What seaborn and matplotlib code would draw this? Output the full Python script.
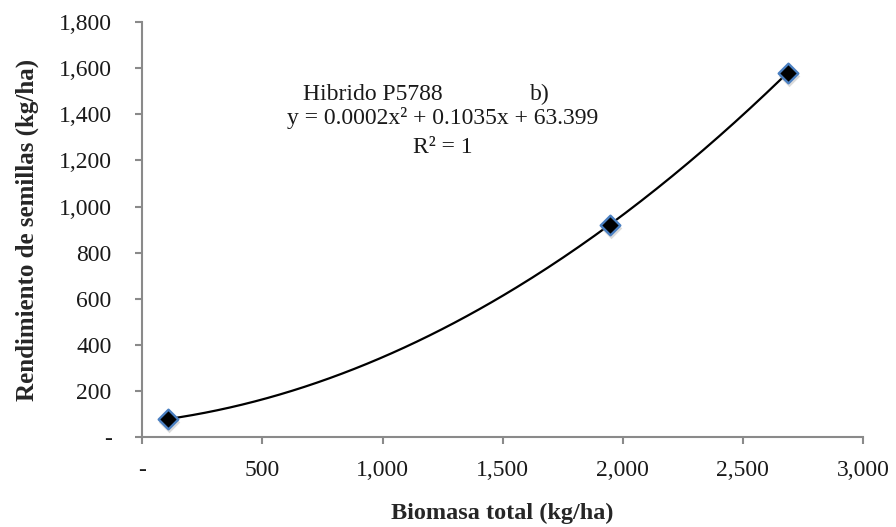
import numpy as np
import pandas as pd
import seaborn as sns
import matplotlib
matplotlib.use("Agg")
import matplotlib.pyplot as plt
from matplotlib.ticker import FuncFormatter, MultipleLocator

# Observed values for hybrid P5788
biomasa = [105, 1945, 2686]          # Biomasa total (kg/ha)
rendimiento = [79, 921, 1580]        # Rendimiento de semillas (kg/ha)

titulo = "Hibrido P5788"
panel = "b)"
ecuacion = "y = 0.0002x² + 0.1035x + 63.399"
r2_texto = "R² = 1"

sns.set_theme(style="white")
plt.rcParams["font.family"] = ["Liberation Serif", "DejaVu Serif"]

df = pd.DataFrame({"x": biomasa, "y": rendimiento})

# quadratic trend line through the observations
coef = np.polyfit(df["x"], df["y"], 2)
xs = np.linspace(min(biomasa), max(biomasa), 200)
trend = pd.DataFrame({"x": xs, "y": np.polyval(coef, xs)})

fig = plt.figure(figsize=(8.96, 5.27), dpi=100)
ax = fig.add_axes([142.3 / 896, 1 - 437.3 / 527, (863 - 142.3) / 896, (437.3 - 22) / 527])

sns.lineplot(data=trend, x="x", y="y", ax=ax, color="black", linewidth=1.6, zorder=2)

# soft drop shadow under the markers
sns.scatterplot(x=df["x"] + 6, y=df["y"] - 14, ax=ax, marker="D", s=120,
                color="#9a9a9a", alpha=0.35, linewidth=0, zorder=3)
sns.scatterplot(data=df, x="x", y="y", ax=ax, marker="D", s=100,
                color="black", edgecolor="#4a7fc1", linewidth=1.7, zorder=4)

ax.set_xlim(0, 3000)
ax.set_ylim(0, 1800)
ax.xaxis.set_major_locator(MultipleLocator(500))
ax.yaxis.set_major_locator(MultipleLocator(200))

fmt = FuncFormatter(lambda v, p: "-" if abs(v) < 1e-9 else f"{v:,.0f}")
ax.xaxis.set_major_formatter(fmt)
ax.yaxis.set_major_formatter(fmt)

for side in ("top", "right"):
    ax.spines[side].set_visible(False)
for side in ("left", "bottom"):
    ax.spines[side].set_color("#8a8a8a")
    ax.spines[side].set_linewidth(1.5)

ax.tick_params(axis="both", which="major", direction="out", length=5,
               width=1.5, color="#8a8a8a", labelsize=17, labelcolor="#1a1a1a",
               bottom=True, left=True)
ax.tick_params(axis="x", pad=11)
ax.tick_params(axis="y", pad=17)

ax.set_xlabel("Biomasa total (kg/ha)", fontsize=17.5, fontweight="bold", labelpad=16)
ax.set_ylabel("Rendimiento de semillas (kg/ha)", fontsize=18, fontweight="bold", labelpad=14)

ax.text(0.223, 0.812, titulo, transform=ax.transAxes, fontsize=17,
        ha="left", va="baseline", color="#1a1a1a")
ax.text(0.538, 0.812, panel, transform=ax.transAxes, fontsize=17,
        ha="left", va="baseline", color="#1a1a1a")
ax.text(0.417, 0.755, ecuacion, transform=ax.transAxes, fontsize=17,
        ha="center", va="baseline", color="#1a1a1a")
ax.text(0.417, 0.685, r2_texto, transform=ax.transAxes, fontsize=17,
        ha="center", va="baseline", color="#1a1a1a")

fig.savefig("out.png", dpi=100, facecolor="white")
